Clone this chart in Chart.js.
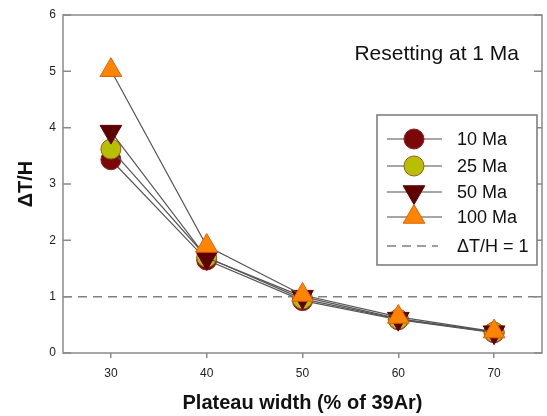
<!DOCTYPE html>
<html>
<head>
<meta charset="utf-8">
<script src="https://cdn.jsdelivr.net/npm/chart.js@4/dist/chart.umd.min.js"></script>
<style>
  html, body { margin: 0; padding: 0; background: #fff; }
  #wrap { width: 547px; height: 416px; }
</style>
</head>
<body>
<div id="wrap"><canvas id="chart" width="547" height="416"></canvas></div>
<script>
// data
const plateauWidth = [30, 40, 50, 60, 70];
const ma10 = [3.43, 1.65, 0.93, 0.59, 0.36];
const ma25 = [3.62, 1.70, 0.96, 0.60, 0.37];
const ma50 = [3.93, 1.69, 1.00, 0.61, 0.37];
const ma100 = [5.02, 1.90, 1.03, 0.64, 0.38];
const refX = [25, 75];
const refY = 1;
const xTicks = [30, 40, 50, 60, 70];
const yTicks = [0, 1, 2, 3, 4, 5, 6];
const seriesLabels = ['10 Ma', '25 Ma', '50 Ma', '100 Ma'];

const FONT = "'Liberation Sans', Arial, sans-serif";
const LINE = '#555';

function toPoints(ys) {
    return plateauWidth.map((x, i) => ({ x: x, y: ys[i] }));
}

const styles = [
    { bg: '#7a0808', border: '#8c2222', style: 'circle', radius: 10, rotation: 0 },
    { bg: '#b6c000', border: '#a05a28', style: 'circle', radius: 10, rotation: 0 },
    { bg: '#5e0000', border: '#5e0000', style: 'triangle', radius: 12.5, rotation: 180 },
    { bg: '#ff8400', border: '#e06010', style: 'triangle', radius: 12.5, rotation: 0 }
];

const series = [ma10, ma25, ma50, ma100];

const datasets = series.map((ys, i) => ({
    label: seriesLabels[i],
    data: toPoints(ys),
    showLine: true,
    borderColor: LINE,
    borderWidth: 1.2,
    pointStyle: styles[i].style,
    pointRotation: styles[i].rotation,
    pointRadius: styles[i].radius,
    pointBackgroundColor: styles[i].bg,
    pointBorderColor: styles[i].border,
    pointBorderWidth: 1,
    order: 4 - i
}));

datasets.push({
    label: '\u0394T/H = 1',
    data: refX.map(x => ({ x: x, y: refY })),
    showLine: true,
    borderColor: '#808080',
    borderWidth: 1.5,
    borderDash: [9, 6],
    pointRadius: 0,
    order: 5
});

// frame, inner ticks, annotation and legend box
const decorations = {
    id: 'decorations',
    afterDraw(chart) {
        const ctx = chart.ctx;
        const a = chart.chartArea;
        const ys = chart.scales.y;
        ctx.save();
        ctx.strokeStyle = '#8a8a8a';
        ctx.lineWidth = 1.5;
        ctx.strokeRect(a.left, a.top, a.right - a.left, a.bottom - a.top);
        ctx.beginPath();
        yTicks.forEach(v => {
            const py = ys.getPixelForValue(v);
            ctx.moveTo(a.left, py); ctx.lineTo(a.left + 8, py);
            ctx.moveTo(a.right, py); ctx.lineTo(a.right - 8, py);
        });
        ctx.stroke();

        ctx.fillStyle = '#111';
        ctx.font = '21px ' + FONT;
        ctx.textAlign = 'right';
        ctx.textBaseline = 'alphabetic';
        ctx.fillText('Resetting at 1 Ma', 519, 60);

        // legend
        const bx = 377, by = 115, bw = 160, bh = 150;
        ctx.fillStyle = '#fff';
        ctx.fillRect(bx, by, bw, bh);
        ctx.strokeStyle = '#777';
        ctx.lineWidth = 1.5;
        ctx.strokeRect(bx, by, bw, bh);

        const rows = [139, 166, 192, 217, 246];
        ctx.font = '18px ' + FONT;
        ctx.textAlign = 'left';
        ctx.textBaseline = 'middle';
        seriesLabels.forEach((lab, i) => {
            const y = rows[i];
            ctx.strokeStyle = '#888';
            ctx.lineWidth = 1.5;
            ctx.setLineDash([]);
            ctx.beginPath();
            ctx.moveTo(387, y); ctx.lineTo(442, y);
            ctx.stroke();
            ctx.fillStyle = styles[i].bg;
            ctx.strokeStyle = styles[i].border;
            ctx.lineWidth = 1;
            Chart.helpers.drawPoint(ctx, {
                pointStyle: styles[i].style,
                rotation: styles[i].rotation,
                radius: styles[i].radius,
                borderWidth: 1
            }, 414, y);
            ctx.fillStyle = '#111';
            ctx.fillText(lab, 457, y + 1);
        });
        const dy = rows[4];
        ctx.strokeStyle = '#808080';
        ctx.lineWidth = 1.5;
        ctx.setLineDash([9, 6]);
        ctx.beginPath();
        ctx.moveTo(387, dy); ctx.lineTo(438, dy);
        ctx.stroke();
        ctx.setLineDash([]);
        ctx.fillStyle = '#111';
        ctx.fillText('\u0394T/H = 1', 457, dy + 1);
        ctx.restore();
    }
};

new Chart(document.getElementById('chart'), {
    type: 'scatter',
    data: { datasets: datasets },
    options: {
        responsive: false,
        animation: false,
        layout: { autoPadding: false, padding: { top: 15, right: 5, left: 0, bottom: 0 } },
        plugins: {
            legend: { display: false },
            tooltip: { enabled: false }
        },
        scales: {
            x: {
                type: 'linear',
                min: 25,
                max: 75,
                afterBuildTicks: scale => { scale.ticks = xTicks.map(v => ({ value: v })); },
                afterFit: scale => { scale.height = 63; },
                border: { display: false },
                grid: { drawOnChartArea: false, drawTicks: true, tickLength: 5, color: '#8a8a8a', lineWidth: 1.5 },
                ticks: { color: '#222', font: { family: FONT, size: 12 }, padding: 8, maxRotation: 0 },
                title: {
                    display: true,
                    text: 'Plateau width (% of 39Ar)',
                    color: '#111',
                    font: { family: FONT, size: 20, weight: 'bold' },
                    padding: { top: 0, bottom: 1 }
                }
            },
            y: {
                type: 'linear',
                min: 0,
                max: 6,
                afterBuildTicks: scale => { scale.ticks = yTicks.map(v => ({ value: v })); },
                afterFit: scale => { scale.width = 63; },
                border: { display: false },
                grid: { drawOnChartArea: false, drawTicks: false },
                ticks: { color: '#222', font: { family: FONT, size: 12 }, padding: 7 },
                title: {
                    display: true,
                    text: '\u0394T/H',
                    color: '#111',
                    font: { family: FONT, size: 20, weight: 'bold' },
                    padding: { top: 14, bottom: 0 }
                }
            }
        }
    },
    plugins: [decorations]
});
</script>
</body>
</html>
